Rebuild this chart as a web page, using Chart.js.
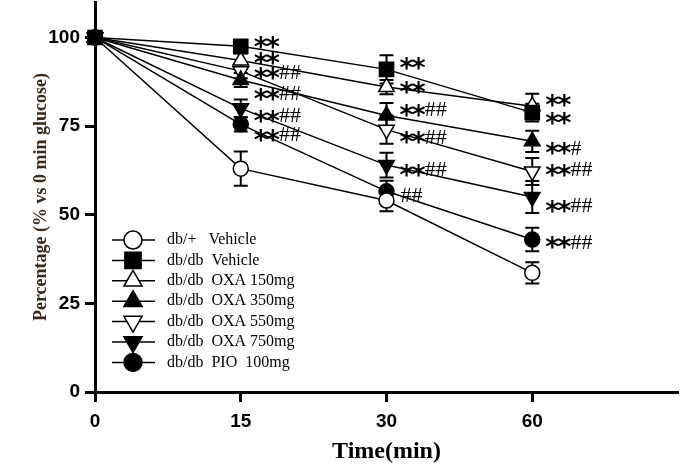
<!DOCTYPE html>
<html lang="en">
<head>
<meta charset="UTF-8">
<script src="https://cdn.jsdelivr.net/npm/chart.js"></script>
<style>
  body { margin: 0; background: #fff; }
  #wrap { width: 681px; height: 472px; }
</style>
</head>
<body>
<div id="wrap"><canvas id="ogtt" width="681" height="472"></canvas></div>
<script>
// time points (x positions are evenly spaced, labelled with minutes)
const timeIdx = [0, 1, 2, 3];
const timeLabels = ['0', '15', '30', '60'];
const yTicks = [0, 25, 50, 75, 100];

const groupNames = ['db/+   Vehicle', 'db/db  Vehicle', 'db/db  OXA 150mg', 'db/db  OXA 350mg',
                    'db/db  OXA 550mg', 'db/db  OXA 750mg', 'db/db  PIO  100mg'];

// % vs 0 min glucose
const dbPlusVehicle = [100, 63, 54, 33.6];
const dbVehicle     = [100, 97.5, 91, 78.8];
const oxa150        = [100, 93.5, 86, 80.6];
const oxa350        = [100, 88, 78, 70.7];
const oxa550        = [100, 90.5, 74, 62.2];
const oxa750        = [100, 80, 64, 55];
const pio100        = [100, 75.5, 56.6, 43];

// error bars (+/-)
const errDbPlus  = [0, 4.8, 3, 3];
const errDb      = [0, 1.5, 4, 2.5];
const err150     = [0, 2, 2, 3.5];
const err350     = [0, 2, 3.5, 3];
const err550     = [0, 2, 4, 3.8];
const err750     = [0, 2.5, 3.5, 4.5];
const errPio     = [0, 2, 3, 3.3];

// significance marks next to each time point (text + value where it sits)
const sigText15 = ['**', '**', '**##', '**##', '**##', '**##'];
const sigY15    = [99.0, 94.5, 90.3, 84.4, 78.2, 72.8];
const sigText30 = ['**', '**', '**##', '**##', '**##', '##'];
const sigY30    = [93.0, 86.2, 79.9, 72.1, 63.0, 55.6];
const sigText60 = ['**', '**', '**#', '**##', '**##', '**##'];
const sigY60    = [82.7, 77.6, 69.1, 62.9, 52.8, 42.5];

const groupValues = [dbPlusVehicle, dbVehicle, oxa150, oxa350, oxa550, oxa750, pio100];
const groupErrors = [errDbPlus, errDb, err150, err350, err550, err750, errPio];

const markStyle = ['circle', 'rect', 'triangle', 'triangle', 'triangle', 'triangle', 'circle'];
const markRot   = [0, 0, 0, 0, 180, 180, 0];
const markFill  = ['#fff', '#000', '#fff', '#000', '#fff', '#000', '#000'];
const markSize  = [7.5, 10, 9, 9, 9, 9, 7.5];

const errorBars = {
  id: 'errorBars',
  beforeDatasetsDraw(chart) {
    const {ctx, scales: {x, y}} = chart;
    ctx.save();
    ctx.strokeStyle = '#000';
    ctx.lineWidth = 2;
    groupValues.forEach((vals, s) => {
      vals.forEach((v, i) => {
        const e = groupErrors[s][i];
        if (!e) return;
        const px = x.getPixelForValue(timeIdx[i]);
        const top = y.getPixelForValue(v + e);
        const bot = y.getPixelForValue(v - e);
        ctx.beginPath();
        ctx.moveTo(px, top); ctx.lineTo(px, bot);
        ctx.moveTo(px - 7, top); ctx.lineTo(px + 7, top);
        ctx.moveTo(px - 7, bot); ctx.lineTo(px + 7, bot);
        ctx.stroke();
      });
    });
    ctx.restore();
  }
};

const sigLabels = {
  id: 'sigLabels',
  afterDatasetsDraw(chart) {
    const {ctx, scales: {x, y}} = chart;
    ctx.save();
    ctx.fillStyle = '#000';
    ctx.textBaseline = 'alphabetic';
    [[1, sigText15, sigY15], [2, sigText30, sigY30], [3, sigText60, sigY60]].forEach(([t, texts, ys]) => {
      const px = x.getPixelForValue(t) + 14;
      texts.forEach((s, k) => {
        const cy = y.getPixelForValue(ys[k]);
        let cx = px;
        for (const ch of s) {
          if (ch === '*') {
            ctx.font = 'bold 27px "DejaVu Sans"';
            ctx.fillText(ch, cx - 1, cy + 15);
            cx += ctx.measureText(ch).width - 2;
          } else {
            ctx.font = '22px "Liberation Serif"';
            ctx.fillText(ch, cx, cy + 7.5);
            cx += ctx.measureText(ch).width;
          }
        }
      });
    });
    ctx.restore();
  }
};

// legend drawn inside the plot, lower left
const boxLegend = {
  id: 'boxLegend',
  afterDraw(chart) {
    const {ctx, chartArea} = chart;
    const left = chartArea.left;
    ctx.save();
    groupNames.forEach((name, i) => {
      const cy = 240 + i * 20.4;
      ctx.strokeStyle = '#000';
      ctx.lineWidth = 1.5;
      ctx.beginPath();
      ctx.moveTo(left + 17, cy); ctx.lineTo(left + 60, cy);
      ctx.stroke();
      ctx.fillStyle = markFill[i];
      ctx.strokeStyle = '#000';
      ctx.lineWidth = 1.5;
      Chart.helpers.drawPoint(ctx, {
        pointStyle: markStyle[i], rotation: markRot[i],
        radius: markSize[i] + 1.5, borderWidth: 1.5
      }, left + 38, cy);
      ctx.fillStyle = '#000';
      ctx.font = '16px "Liberation Serif"';
      ctx.textBaseline = 'middle';
      ctx.fillText(name, left + 72, cy);
    });
    ctx.restore();
  }
};

const ctx = document.getElementById('ogtt').getContext('2d');
const ogttChart = new Chart(ctx, {
  type: 'line',
  data: {
    datasets: groupValues.map((vals, s) => ({
      label: groupNames[s],
      data: vals.map((v, i) => ({x: timeIdx[i], y: v})),
      borderColor: '#000',
      borderWidth: 1.5,
      pointStyle: markStyle[s],
      rotation: markRot[s],
      pointRadius: markSize[s],
      pointBackgroundColor: markFill[s],
      pointBorderColor: '#000',
      pointBorderWidth: 1.5,
      order: s === 1 ? -1 : s,
      fill: false,
      clip: false,
      tension: 0
    }))
  },
  options: {
    responsive: false,
    animation: false,
    devicePixelRatio: 1,
    layout: { autoPadding: false, padding: { top: 2, right: 3, left: 0, bottom: 0 } },
    plugins: { legend: { display: false }, tooltip: { enabled: false } },
    scales: {
      x: {
        type: 'linear',
        min: 0,
        max: 4,
        afterBuildTicks: (scale) => { scale.ticks = timeIdx.map(v => ({value: v})); },
        afterFit: (scale) => { scale.height = 80; scale.paddingLeft = 0; scale.paddingRight = 0; },
        ticks: {
          color: '#000',
          padding: 8,
          font: { family: '"Liberation Sans"', size: 19, weight: 'bold' },
          callback: (v) => timeLabels[v]
        },
        grid: { drawOnChartArea: false, drawTicks: true, tickLength: 10, tickWidth: 3, tickColor: '#000' },
        border: { display: true, width: 3, color: '#000' },
        title: {
          display: true, text: 'Time(min)', color: '#000',
          font: { family: '"Liberation Serif"', size: 24, weight: 'bold' },
          padding: { top: 0, bottom: 6 }
        }
      },
      y: {
        min: 0,
        max: 110,
        afterBuildTicks: (scale) => { scale.ticks = yTicks.map(v => ({value: v})); },
        afterFit: (scale) => { scale.width = 95; scale.paddingTop = 0; scale.paddingBottom = 0; },
        ticks: {
          color: '#000',
          padding: 5,
          font: { family: '"Liberation Sans"', size: 19, weight: 'bold' }
        },
        grid: { drawOnChartArea: false, drawTicks: true, tickLength: 10, tickWidth: 3, tickColor: '#000' },
        border: { display: true, width: 3, color: '#000' },
        title: {
          display: true, text: 'Percentage (% vs 0 min glucose)', color: '#3a2a1c',
          font: { family: '"Liberation Serif"', size: 18, weight: 'bold' },
          padding: { top: 31, bottom: 0 }
        }
      }
    }
  },
  plugins: [errorBars, sigLabels, boxLegend]
});
</script>
</body>
</html>
